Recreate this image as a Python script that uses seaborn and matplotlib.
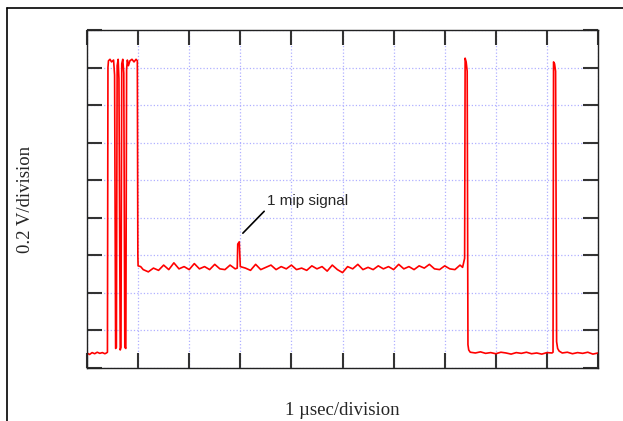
import matplotlib
matplotlib.use("Agg")
import matplotlib.pyplot as plt
from matplotlib.lines import Line2D
import seaborn as sns
import pandas as pd

# oscilloscope trace, x in divisions (1 usec/div), y in divisions (0.2 V/div)
# low baseline before the burst
t_start = [0.00, 0.05, 0.10, 0.15, 0.20, 0.25, 0.30, 0.35, 0.38, 0.40]
v_start = [0.40, 0.36, 0.41, 0.38, 0.42, 0.39, 0.41, 0.38, 0.40, 0.42]

# burst of saturated pulses
t_burst = [0.41, 0.42, 0.45, 0.48, 0.52, 0.54, 0.56, 0.575, 0.59, 0.61, 0.625,
           0.65, 0.665, 0.68, 0.70, 0.72, 0.74, 0.76, 0.775, 0.79, 0.81, 0.84,
           0.88, 0.92, 0.96, 0.985, 0.995]
v_burst = [8.00, 8.18, 8.22, 8.15, 8.20, 7.80, 0.52, 0.55, 8.05, 8.22, 7.70,
           0.48, 0.55, 8.10, 8.22, 7.85, 0.55, 0.52, 7.95, 8.20, 8.05, 8.18,
           8.22, 8.15, 8.22, 8.18, 3.00]

# plateau with the 1 mip signal
t_plateau = [1.00, 1.05, 1.10, 1.20, 1.30, 1.40, 1.50, 1.60, 1.70, 1.80, 1.90,
             2.00, 2.10, 2.20, 2.30, 2.40, 2.50, 2.60, 2.70, 2.80, 2.90, 2.94,
             2.95, 2.98, 3.00, 3.10, 3.20, 3.30, 3.40, 3.50, 3.60, 3.70, 3.80,
             3.90, 4.00, 4.10, 4.20, 4.30, 4.40, 4.50, 4.60, 4.70, 4.80, 4.90,
             5.00, 5.10, 5.20, 5.30, 5.40, 5.50, 5.60, 5.70, 5.80, 5.90, 6.00,
             6.10, 6.20, 6.30, 6.40, 6.50, 6.60, 6.70, 6.80, 6.90, 7.00, 7.10,
             7.20, 7.30, 7.35, 7.39]
v_plateau = [2.72, 2.70, 2.62, 2.56, 2.66, 2.60, 2.74, 2.62, 2.80, 2.64, 2.70,
             2.62, 2.78, 2.64, 2.70, 2.62, 2.76, 2.64, 2.62, 2.74, 2.64, 2.66,
             3.30, 3.36, 2.70, 2.66, 2.60, 2.76, 2.62, 2.68, 2.74, 2.62, 2.70,
             2.64, 2.74, 2.62, 2.66, 2.60, 2.72, 2.64, 2.70, 2.58, 2.74, 2.62,
             2.54, 2.70, 2.64, 2.76, 2.62, 2.68, 2.62, 2.72, 2.64, 2.70, 2.62,
             2.76, 2.64, 2.70, 2.62, 2.72, 2.66, 2.76, 2.64, 2.62, 2.72, 2.64,
             2.62, 2.74, 2.68, 2.92]

# two trailing pulses and low baseline
t_end = [7.40, 7.42, 7.44, 7.455, 7.47, 7.50, 7.60, 7.70, 7.80, 7.90, 8.00,
         8.10, 8.20, 8.30, 8.40, 8.50, 8.60, 8.70, 8.80, 8.90, 9.00, 9.10,
         9.12, 9.13, 9.15, 9.17, 9.19, 9.21, 9.24, 9.30, 9.40, 9.50, 9.60,
         9.70, 9.80, 9.90, 10.00]
v_end = [8.25, 8.15, 7.90, 0.62, 0.48, 0.42, 0.40, 0.43, 0.39, 0.41, 0.38,
         0.42, 0.40, 0.37, 0.41, 0.39, 0.42, 0.38, 0.40, 0.37, 0.41, 0.40,
         0.42, 8.15, 8.10, 7.90, 0.70, 0.52, 0.45, 0.40, 0.42, 0.38, 0.41,
         0.39, 0.42, 0.37, 0.40]

df = pd.DataFrame({
    "t": t_start + t_burst + t_plateau + t_end,
    "v": v_start + v_burst + v_plateau + v_end,
})

sns.set_style("ticks")
fig = plt.figure(figsize=(6.23, 4.21), dpi=100)
ax = fig.add_axes([87 / 623, 53 / 421, 511 / 623, 338 / 421])

sns.lineplot(data=df, x="t", y="v", sort=False, estimator=None,
             color="#ff0000", linewidth=1.2, ax=ax)

ax.set_xlim(0, 10)
ax.set_ylim(0, 9)
ax.set_xticks(range(0, 11))
ax.set_yticks(range(0, 10))
ax.set_xticklabels([])
ax.set_yticklabels([])
ax.tick_params(direction="in", length=11, width=1.5, color="#333333",
               top=True, right=True)
ax.grid(True, color="#b0b0ff", linestyle=":", linewidth=0.9)
for s in ax.spines.values():
    s.set_color("#222222")
    s.set_linewidth(1.0)

ax.set_xlabel("1 \u00b5sec/division", family="Liberation Serif", fontsize=13.5,
              labelpad=21)
ax.set_ylabel("0.2 V/division", family="Liberation Serif", fontsize=13.5,
              labelpad=35)

ax.annotate("1 mip signal", xy=(3.05, 3.59), xytext=(3.53, 4.26),
            ha="left", va="bottom", family="Liberation Sans", fontsize=11,
            arrowprops=dict(arrowstyle="-", color="black", lw=1.2,
                            shrinkA=0, shrinkB=0, relpos=(0, 0)))

# outer frame of the figure
fig.add_artist(Line2D([7 / 623, 7 / 623], [0, 1 - 8 / 421],
                      transform=fig.transFigure, color="black", lw=1.2))
fig.add_artist(Line2D([7 / 623, 1], [1 - 8 / 421, 1 - 8 / 421],
                      transform=fig.transFigure, color="black", lw=1.2))

fig.savefig("out.png", dpi=100)
